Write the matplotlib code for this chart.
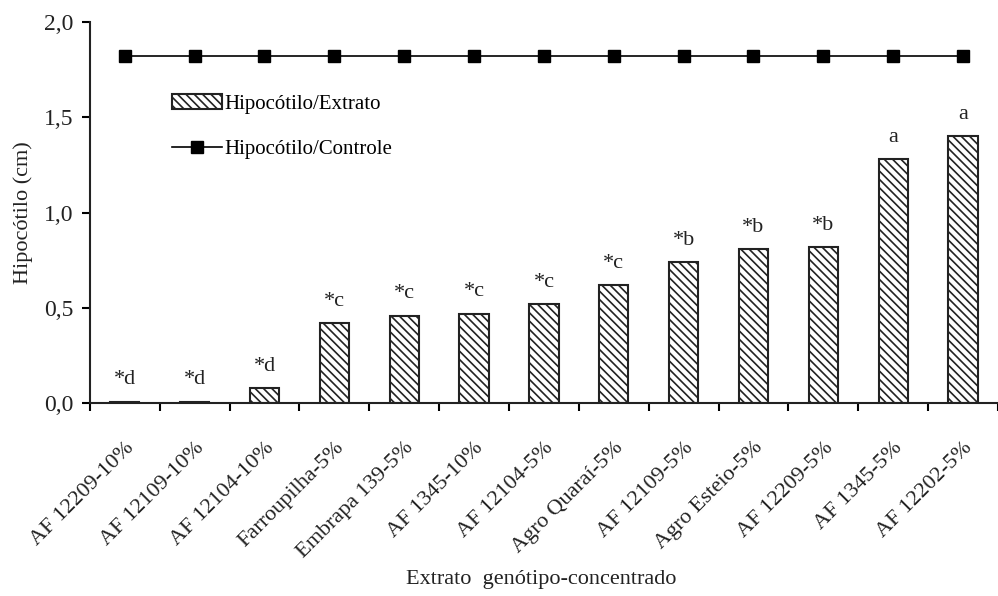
import numpy as np
import matplotlib.pyplot as plt

plt.rcParams['font.family'] = ['Liberation Serif', 'DejaVu Serif']
plt.rcParams['hatch.color'] = '#555555'
plt.rcParams['hatch.linewidth'] = 1.2

genotipos = ['AF 12209-10%', 'AF 12109-10%', 'AF 12104-10%', 'Farroupilha-5%',
             'Embrapa 139-5%', 'AF 1345-10%', 'AF 12104-5%', 'Agro Quaraí-5%',
             'AF 12109-5%', 'Agro Esteio-5%', 'AF 12209-5%', 'AF 1345-5%',
             'AF 12202-5%']
extrato = [0.01, 0.01, 0.08, 0.42, 0.46, 0.47, 0.52, 0.62, 0.74, 0.81, 0.82, 1.28, 1.40]
controle = [1.82] * 13
letras = ['*d', '*d', '*d', '*c', '*c', '*c', '*c', '*c', '*b', '*b', '*b', 'a', 'a']

fig = plt.figure(figsize=(9.98, 5.96), dpi=100)
ax = fig.add_axes([0.09, 0.323, 0.91, 0.64])

x = np.arange(len(genotipos))
ax.bar(x, extrato, width=0.42, color='white', edgecolor='#222222', linewidth=1.5,
       hatch='\\\\\\\\', label='Hipocótilo/Extrato')
ax.plot(x, controle, color='black', marker='s', markersize=8, linewidth=1.2,
        label='Hipocótilo/Controle')

for xi, v, t in zip(x, extrato, letras):
    ax.text(xi, v + 0.065, t, ha='center', va='bottom', fontsize=16, color='#222222')

ax.set_xlim(-0.5, len(genotipos) - 0.5)
ax.set_ylim(0, 2.0)
ax.set_yticks(np.arange(0, 2.01, 0.5))
ax.set_yticklabels([f'{v:.1f}'.replace('.', ',') for v in np.arange(0, 2.01, 0.5)],
                   fontsize=17, color='#222222')
ax.set_xticks(x)
ax.set_xticklabels(genotipos, rotation=45, ha='right', rotation_mode='anchor',
                   fontsize=16, color='#222222')
ax.set_xticks(np.arange(-0.5, len(genotipos), 1), minor=True)
ax.tick_params(axis='x', which='major', length=0, pad=25)
ax.tick_params(axis='x', which='minor', length=6, width=1.5, direction='out')
ax.tick_params(axis='y', length=6, width=1.5, direction='out', pad=6)

for s in ['top', 'right']:
    ax.spines[s].set_visible(False)
for s in ['left', 'bottom']:
    ax.spines[s].set_linewidth(1.5)
    ax.spines[s].set_color('#222222')

ax.set_ylabel('Hipocótilo (cm)', fontsize=16, labelpad=8, color='#222222')
fig.text(0.542, 0.012, 'Extrato  genótipo-concentrado', ha='center', va='bottom',
         fontsize=16, color='#222222')

handles, labels = ax.get_legend_handles_labels()
ax.legend(handles[::-1], labels[::-1], loc='upper left', bbox_to_anchor=(0.07, 0.86),
          frameon=False, fontsize=15, handlelength=2.4, handletextpad=0.1,
          labelspacing=1.25)

fig.savefig('out.png', dpi=100)
